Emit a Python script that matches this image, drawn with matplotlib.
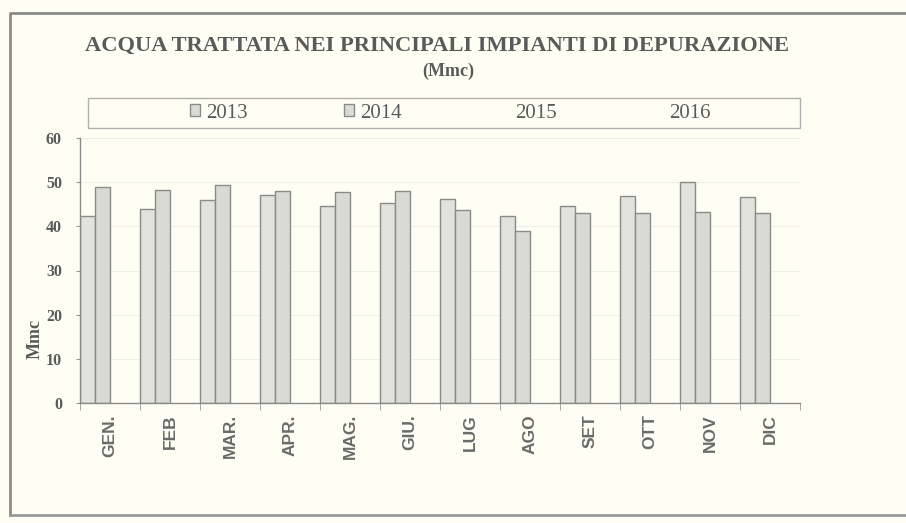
import matplotlib
matplotlib.use("Agg")
from matplotlib import pyplot as plt
from matplotlib.patches import Patch, Rectangle
import numpy as np

# dati (Mmc)
mesi = ["GEN.", "FEB", "MAR.", "APR.", "MAG.", "GIU.", "LUG", "AGO", "SET", "OTT", "NOV", "DIC"]
anni = ["2013", "2014", "2015", "2016"]
acqua_2013 = [42.4, 44.0, 45.9, 47.0, 44.5, 45.2, 46.1, 42.3, 44.7, 46.8, 50.0, 46.7]
acqua_2014 = [49.0, 48.2, 49.3, 47.9, 47.8, 47.9, 43.7, 38.9, 43.0, 43.0, 43.2, 43.0]
acqua_2015 = []   # serie vuote, presenti solo in legenda
acqua_2016 = []

sfondo = "#fefef4"
grigio = "#5a5a5a"

fig = plt.figure(figsize=(9.06, 5.23), dpi=100, facecolor=sfondo)
ax = fig.add_axes([80/906, 1-403/523, 720/906, 265/523])
ax.set_facecolor(sfondo)

x = np.arange(len(mesi))
w = 0.25
ax.bar(x - 1.5*w, acqua_2013, width=w, align="center",
       color="#e2e2dc", edgecolor="#8a8a8a", linewidth=1.0, label="2013")
ax.bar(x - 0.5*w, acqua_2014, width=w, align="center",
       color="#dadad4", edgecolor="#8a8a8a", linewidth=1.0, label="2014")

ax.set_xlim(-0.5, len(mesi) - 0.5)
ax.set_ylim(0, 60)
ax.set_yticks(range(0, 61, 10))
ax.set_yticklabels([str(v) for v in range(0, 61, 10)],
                   family="Liberation Serif", fontsize=11.5, color=grigio, weight="bold")
ax.set_xticks(x)
ax.set_xticklabels(mesi, rotation=90, family="Liberation Sans", fontsize=12.5,
                   color="#6a6a6a", weight="bold")
ax.set_xticks(np.arange(-0.5, len(mesi), 1), minor=True)
ax.tick_params(axis="x", which="major", length=0, pad=8)
ax.tick_params(axis="x", which="minor", length=5, color="#999999", direction="out")
ax.tick_params(axis="y", length=3, color="#999999", pad=10)

for s in ["top", "right"]:
    ax.spines[s].set_visible(False)
for s in ["left", "bottom"]:
    ax.spines[s].set_color("#8a8a8a")
    ax.spines[s].set_linewidth(1.0)

ax.set_axisbelow(True)
ax.yaxis.grid(True, color="#efefe6", linewidth=0.8)

ax.set_ylabel("Mmc", family="Liberation Serif", fontsize=13, weight="bold", color=grigio)
ax.yaxis.set_label_coords(-0.05, 0.24)

# titolo
fig.text(437/906, 1-46/523, "ACQUA TRATTATA NEI PRINCIPALI IMPIANTI DI DEPURAZIONE",
         ha="center", va="center", family="Liberation Serif", weight="bold",
         fontsize=16.2, color=grigio)
fig.text(448/906, 1-71/523, "(Mmc)", ha="center", va="center",
         family="Liberation Serif", weight="bold", fontsize=13, color=grigio)

# legenda in riquadro
fig.patches.append(Rectangle((88/906, 1-128/523), 712/906, 30/523, transform=fig.transFigure,
                             facecolor="none", edgecolor="#b0b0b0", linewidth=1.0))
maniglie = [Patch(facecolor="#dcdcd6", edgecolor="#8a8a8a", label=anni[0]),
            Patch(facecolor="#dcdcd6", edgecolor="#8a8a8a", label=anni[1]),
            Patch(facecolor="none", edgecolor="none", label=anni[2]),
            Patch(facecolor="none", edgecolor="none", label=anni[3])]
leg = fig.legend(handles=maniglie, loc="center", bbox_to_anchor=(450/906, 1-113/523),
                 ncol=4, frameon=False, handlelength=0.5, handleheight=0.5,
                 handletextpad=0.3, columnspacing=4.6,
                 prop={"family": "Liberation Serif", "size": 15})
for t in leg.get_texts():
    t.set_color(grigio)

# cornice esterna
fig.add_artist(plt.Line2D([10/906, 10/906, 1.0], [1-515/523, 1-13/523, 1-13/523],
                          transform=fig.transFigure, color="#8a8a8a", linewidth=2))
fig.add_artist(plt.Line2D([10/906, 1.0], [1-515/523, 1-515/523],
                          transform=fig.transFigure, color="#9a9a9a", linewidth=2))

fig.savefig("out.png", dpi=100, facecolor=sfondo)
